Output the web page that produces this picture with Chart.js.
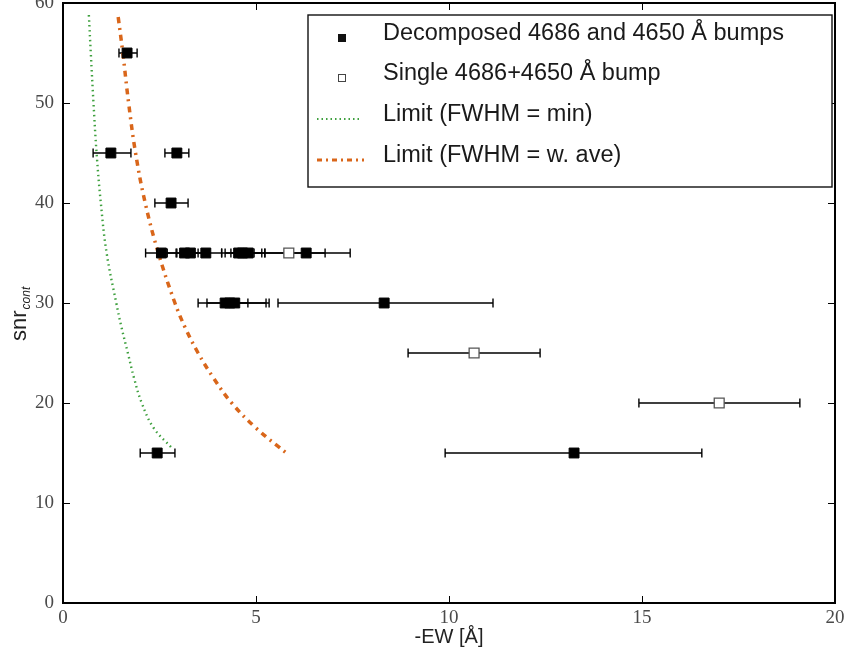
<!DOCTYPE html>
<html>
<head>
<meta charset="utf-8">
<script src="https://cdn.jsdelivr.net/npm/chart.js@4.4.1/dist/chart.umd.min.js"></script>
<style>
  html, body { margin: 0; padding: 0; background: #fff; }
  #wrap { width: 850px; height: 661px; position: relative; }
</style>
</head>
<body>
<div id="wrap"><canvas id="chart"></canvas></div>
<script>

// decomposed 4686 and 4650 bumps (filled squares)
const filledX = [1.66, 1.24, 2.95, 2.80, 2.55, 3.15, 3.30, 3.70, 4.55, 4.65, 4.80, 6.30, 4.20, 4.32, 4.45, 8.32, 13.24, 2.44];
const filledY = [55, 45, 45, 40, 35, 35, 35, 35, 35, 35, 35, 35, 30, 30, 30, 30, 15, 15];
const filledLo = [1.45, 0.78, 2.64, 2.38, 2.14, 2.70, 2.95, 3.30, 4.11, 4.20, 4.35, 5.23, 3.50, 3.73, 4.15, 5.57, 9.90, 2.00];
const filledHi = [1.92, 1.76, 3.26, 3.24, 2.93, 3.50, 3.62, 4.11, 4.95, 5.23, 5.15, 7.44, 5.34, 4.79, 5.26, 11.14, 16.55, 2.90];

// single 4686+4650 bump (open squares)
const openX = [5.85, 10.65, 17.0];
const openY = [35, 25, 20];
const openLo = [4.90, 8.94, 14.92];
const openHi = [6.79, 12.36, 19.09];

// detection limit curves
const minLimitY = [58.8, 55, 50, 45, 40, 35, 30, 27.5, 25, 22.5, 20, 17.5, 15.5];
const minLimitX = [0.67, 0.72, 0.79, 0.87, 0.98, 1.13, 1.38, 1.52, 1.68, 1.84, 2.04, 2.35, 2.82];
const aveLimitY = [58.6, 55, 50, 45, 40, 35, 30, 27.5, 25, 22.5, 20, 17.5, 14.8];
const aveLimitX = [1.43, 1.55, 1.70, 1.88, 2.13, 2.47, 2.90, 3.17, 3.50, 3.90, 4.37, 5.00, 5.85];

const xTicks = [0, 5, 10, 15, 20];
const yTicks = [0, 10, 20, 30, 40, 50, 60];

const legendLabels = [
  "Decomposed 4686 and 4650 Å bumps",
  "Single 4686+4650 Å bump",
  "Limit (FWHM = min)",
  "Limit (FWHM = w. ave)",
];

const GREEN = "#3fa03f";
const ORANGE = "#d9661a";

const toPoints = (xs, ys) => xs.map((x, i) => ({ x, y: ys[i] }));

// frame, inward ticks, error bars, axis titles and the boxed legend
const figurePlugin = {
  id: "figure",
  beforeDatasetsDraw(chart) {
    const { ctx, scales } = chart;
    const x = scales.x, y = scales.y;
    ctx.save();
    ctx.strokeStyle = "#000";
    ctx.lineWidth = 1.4;
    const bars = (xs, ys, lo, hi) => {
      xs.forEach((_, i) => {
        const py = y.getPixelForValue(ys[i]);
        const a = x.getPixelForValue(lo[i]);
        const b = x.getPixelForValue(hi[i]);
        ctx.beginPath();
        ctx.moveTo(a, py); ctx.lineTo(b, py);
        ctx.moveTo(a, py - 4.5); ctx.lineTo(a, py + 4.5);
        ctx.moveTo(b, py - 4.5); ctx.lineTo(b, py + 4.5);
        ctx.stroke();
      });
    };
    bars(filledX, filledY, filledLo, filledHi);
    bars(openX, openY, openLo, openHi);
    ctx.restore();
  },
  afterDraw(chart) {
    const { ctx, chartArea: ca, scales } = chart;
    ctx.save();
    // box
    ctx.strokeStyle = "#000";
    ctx.lineWidth = 2;
    ctx.strokeRect(ca.left, ca.top, ca.right - ca.left, ca.bottom - ca.top);
    // inward ticks
    ctx.lineWidth = 1;
    xTicks.slice(1, -1).forEach((v) => {
      const px = Math.round(scales.x.getPixelForValue(v)) + 0.5;
      ctx.beginPath();
      ctx.moveTo(px, ca.bottom); ctx.lineTo(px, ca.bottom - 7);
      ctx.moveTo(px, ca.top); ctx.lineTo(px, ca.top + 7);
      ctx.stroke();
    });
    yTicks.slice(1, -1).forEach((v) => {
      const py = Math.round(scales.y.getPixelForValue(v)) + 0.5;
      ctx.beginPath();
      ctx.moveTo(ca.left, py); ctx.lineTo(ca.left + 7, py);
      ctx.moveTo(ca.right, py); ctx.lineTo(ca.right - 7, py);
      ctx.stroke();
    });

    // x title
    ctx.fillStyle = "#222";
    ctx.font = "20px 'Liberation Sans', Arial, sans-serif";
    ctx.textAlign = "center";
    ctx.textBaseline = "alphabetic";
    ctx.fillText("-EW [Å]", (ca.left + ca.right) / 2, 643);

    // y title: snr with subscript "cont"
    ctx.save();
    ctx.translate(26, 341);
    ctx.rotate(-Math.PI / 2);
    ctx.textAlign = "left";
    ctx.font = "22px 'Liberation Sans', Arial, sans-serif";
    ctx.fillText("snr", 0, 0);
    const w = ctx.measureText("snr").width;
    ctx.font = "italic 12px 'Liberation Sans', Arial, sans-serif";
    ctx.fillText("cont", w + 1, 4);
    ctx.restore();

    // legend
    const lx = 308, ly = 15, lw = 524, lh = 172;
    ctx.fillStyle = "#fff";
    ctx.fillRect(lx, ly, lw, lh);
    ctx.strokeStyle = "#111";
    ctx.lineWidth = 1.4;
    ctx.strokeRect(lx, ly, lw, lh);
    const rows = [38, 78, 119, 160];
    ctx.fillStyle = "#111";
    ctx.fillRect(338, rows[0] - 4, 8, 8);
    ctx.strokeStyle = "#444";
    ctx.lineWidth = 1;
    ctx.strokeRect(338.5, rows[1] - 3.5, 7, 7);
    ctx.lineWidth = 2;
    ctx.strokeStyle = GREEN;
    ctx.setLineDash([1.5, 3]);
    ctx.beginPath(); ctx.moveTo(317, rows[2]); ctx.lineTo(362, rows[2]); ctx.stroke();
    ctx.lineWidth = 3;
    ctx.strokeStyle = ORANGE;
    ctx.setLineDash([5, 4, 2, 4]);
    ctx.beginPath(); ctx.moveTo(317, rows[3]); ctx.lineTo(364, rows[3]); ctx.stroke();
    ctx.setLineDash([]);
    ctx.fillStyle = "#1a1a1a";
    ctx.font = "23.5px 'Liberation Sans', Arial, sans-serif";
    ctx.textAlign = "left";
    ctx.textBaseline = "middle";
    legendLabels.forEach((t, i) => ctx.fillText(t, 383, rows[i] - 4));
    ctx.restore();
  },
};

new Chart(document.getElementById("chart"), {
  type: "scatter",
  data: {
    datasets: [
      {
        label: legendLabels[2],
        data: toPoints(minLimitX, minLimitY),
        showLine: true,
        borderColor: GREEN,
        borderWidth: 2.4,
        borderDash: [1.5, 3.5],
        pointRadius: 0,
        tension: 0.4,
        order: 3,
      },
      {
        label: legendLabels[3],
        data: toPoints(aveLimitX, aveLimitY),
        showLine: true,
        borderColor: ORANGE,
        borderWidth: 3.5,
        borderDash: [6, 5, 2, 5],
        pointRadius: 0,
        tension: 0.4,
        order: 4,
      },
      {
        label: legendLabels[1],
        data: toPoints(openX, openY),
        pointStyle: "rect",
        pointRadius: 7,
        pointBackgroundColor: "#fff",
        pointBorderColor: "#555",
        pointBorderWidth: 1.3,
        order: 1,
      },
      {
        label: legendLabels[0],
        data: toPoints(filledX, filledY),
        pointStyle: "rect",
        pointRadius: 7,
        pointBackgroundColor: "#000",
        pointBorderColor: "#000",
        pointBorderWidth: 1,
        order: 0,
      },
    ],
  },
  options: {
    responsive: true,
    maintainAspectRatio: false,
    animation: false,
    layout: { autoPadding: false, padding: { top: 3, right: 15, left: 0, bottom: 0 } },
    plugins: { legend: { display: false }, tooltip: { enabled: false } },
    scales: {
      x: {
        type: "linear",
        min: 0,
        max: 20,
        afterBuildTicks: (s) => { s.ticks = xTicks.map((v) => ({ value: v })); },
        afterFit: (s) => { s.height = 58; s.paddingLeft = 0; s.paddingRight = 0; },
        grid: { display: false, drawTicks: false, tickLength: 0 },
        border: { display: false },
        ticks: {
          padding: 4,
          maxRotation: 0,
          color: "#4a4a4a",
          font: { family: "'Liberation Serif', 'DejaVu Serif', serif", size: 19 },
        },
      },
      y: {
        type: "linear",
        min: 0,
        max: 60,
        afterBuildTicks: (s) => { s.ticks = yTicks.map((v) => ({ value: v })); },
        afterFit: (s) => { s.width = 63; s.paddingTop = 0; s.paddingBottom = 0; },
        grid: { display: false, drawTicks: false, tickLength: 0 },
        border: { display: false },
        ticks: {
          padding: 9,
          color: "#4a4a4a",
          font: { family: "'Liberation Serif', 'DejaVu Serif', serif", size: 19 },
        },
      },
    },
  },
  plugins: [figurePlugin],
});
</script>
</body>
</html>
